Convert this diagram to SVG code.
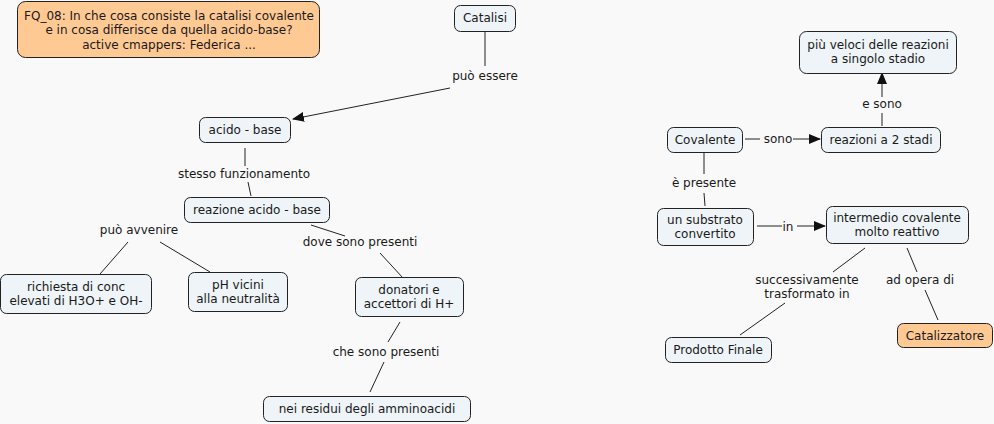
<svg xmlns="http://www.w3.org/2000/svg" width="994" height="424" viewBox="0 0 994 424">
<defs>
<style>
.n{fill:#eef4f7;stroke:#222;stroke-width:1}
.o{fill:#ffc994;stroke:#222;stroke-width:1}
text{font-family:"DejaVu Sans",Verdana,sans-serif;font-size:12px;fill:#1a1a1a;text-anchor:middle}
.c line{stroke:#222;stroke-width:1}
</style>
<marker id="ah" viewBox="0 0 12 10" refX="11" refY="5" markerWidth="12" markerHeight="10" markerUnits="userSpaceOnUse" orient="auto">
<path d="M0,0 L12,5 L0,10 Z" fill="#111"/>
</marker>
</defs>
<rect width="994" height="424" fill="#f9f9f9"/>
<g class="c" id="connectors">
<line x1="485" y1="32" x2="485" y2="66"/>
<line x1="450" y1="88" x2="293" y2="119" marker-end="url(#ah)"/>
<line x1="245" y1="148" x2="245" y2="166"/>
<line x1="248" y1="182" x2="251" y2="196"/>
<line x1="128" y1="242" x2="100" y2="274"/>
<line x1="160" y1="242" x2="210" y2="272"/>
<line x1="311" y1="225" x2="345" y2="236"/>
<line x1="380" y1="253" x2="403" y2="278"/>
<line x1="400" y1="322" x2="388" y2="342"/>
<line x1="384" y1="362" x2="370" y2="392"/>
<line x1="882" y1="126" x2="882" y2="113"/>
<line x1="882" y1="97" x2="882" y2="73" marker-end="url(#ah)"/>
<line x1="745" y1="139" x2="760" y2="139"/>
<line x1="793" y1="139" x2="820" y2="139" marker-end="url(#ah)"/>
<line x1="704" y1="153" x2="704" y2="174"/>
<line x1="704" y1="193" x2="705" y2="206"/>
<line x1="757" y1="226" x2="782" y2="226"/>
<line x1="797" y1="226" x2="825" y2="226" marker-end="url(#ah)"/>
<line x1="865" y1="248" x2="833" y2="272"/>
<line x1="785" y1="303" x2="740" y2="335"/>
<line x1="907" y1="248" x2="917" y2="272"/>
<line x1="925" y1="290" x2="938" y2="320"/>
</g>
<g class="c" id="link-labels">
<text x="485" y="80">può essere</text>
<text x="244" y="178">stesso funzionamento</text>
<text x="139" y="234">può avvenire</text>
<text x="360" y="246">dove sono presenti</text>
<text x="386" y="356">che sono presenti</text>
<text x="882" y="108">e sono</text>
<text x="778" y="143">sono</text>
<text x="704" y="187">è presente</text>
<text x="788" y="231">in</text>
<text x="807" y="284">successivamente</text>
<text x="807" y="298">trasformato in</text>
<text x="920" y="284">ad opera di</text>
</g>
<g id="fq"><rect class="o" x="17.5" y="1.5" width="302" height="56" rx="8"/>
<text x="169" y="19.5">FQ_08: In che cosa consiste la catalisi covalente</text>
<text x="169" y="34">e in cosa differisce da quella acido-base?</text>
<text x="169" y="48.5">active cmappers: Federica ...</text></g>
<g id="catalisi"><rect class="n" x="454.5" y="5.5" width="61" height="26" rx="6"/><text x="485" y="22">Catalisi</text></g>
<g id="acido-base"><rect class="n" x="199.5" y="117.5" width="91" height="25" rx="6"/><text x="245" y="134">acido - base</text></g>
<g id="reazione"><rect class="n" x="184.5" y="197.5" width="145" height="25" rx="6"/><text x="257" y="214">reazione acido - base</text></g>
<g id="richiesta"><rect class="n" x="0.5" y="274.5" width="151" height="39" rx="6"/><text x="76" y="291">richiesta di conc</text><text x="76" y="305">elevati di H3O+ e OH-</text></g>
<g id="ph"><rect class="n" x="188.5" y="272.5" width="99" height="39" rx="6"/><text x="238" y="289">pH vicini</text><text x="238" y="303">alla neutralità</text></g>
<g id="donatori"><rect class="n" x="355.5" y="277.5" width="108" height="39" rx="6"/><text x="409" y="294">donatori e</text><text x="409" y="308">accettori di H+</text></g>
<g id="residui"><rect class="n" x="263.5" y="396.5" width="207" height="25" rx="6"/><text x="367" y="413">nei residui degli amminoacidi</text></g>
<g id="veloci"><rect class="n" x="799.5" y="31.5" width="157" height="42" rx="7"/><text x="878" y="49">più veloci delle reazioni</text><text x="878" y="63">a singolo stadio</text></g>
<g id="covalente"><rect class="n" x="667.5" y="127.5" width="75" height="25" rx="6"/><text x="705" y="144">Covalente</text></g>
<g id="stadi"><rect class="n" x="821.5" y="127.5" width="119" height="25" rx="6"/><text x="881" y="144">reazioni a 2 stadi</text></g>
<g id="substrato"><rect class="n" x="657.5" y="208.5" width="96" height="37" rx="6"/><text x="705" y="224">un substrato</text><text x="705" y="238">convertito</text></g>
<g id="intermedio"><rect class="n" x="826.5" y="206.5" width="142" height="37" rx="6"/><text x="897" y="222">intermedio covalente</text><text x="897" y="236">molto reattivo</text></g>
<g id="prodotto"><rect class="n" x="665.5" y="337.5" width="106" height="25" rx="6"/><text x="718" y="354">Prodotto Finale</text></g>
<g id="catalizzatore"><rect class="o" x="897.5" y="323.5" width="95" height="24" rx="6"/><text x="945" y="340">Catalizzatore</text></g>
</svg>
